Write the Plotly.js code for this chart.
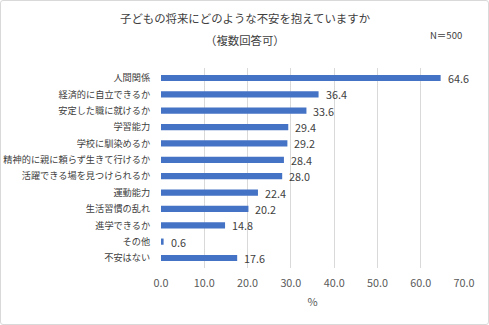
<!DOCTYPE html>
<html><head><meta charset="utf-8">
<script src="https://cdn.plot.ly/plotly-3.0.1.min.js"></script>
<style>
html,body{margin:0;padding:0;background:#fff;}
#wrap{position:absolute;left:0;top:0;width:487px;height:323px;border:1px solid #D9D9D9;border-radius:3px;}
#chart{position:absolute;left:-1px;top:-1px;width:489px;height:325px;}
</style>
</head><body>
<div id="wrap"><div id="chart"></div></div>
<script>
const categories = ["人間関係","経済的に自立できるか","安定した職に就けるか","学習能力","学校に馴染めるか","精神的に親に頼らず生きて行けるか","活躍できる場を見つけられるか","運動能力","生活習慣の乱れ","進学できるか","その他","不安はない"];
const values = [64.6,36.4,33.6,29.4,29.2,28.4,28.0,22.4,20.2,14.8,0.6,17.6];
const tickVals = [0,10,20,30,40,50,60,70];
const tickText = ["0.0","10.0","20.0","30.0","40.0","50.0","60.0","70.0"];
const titleLine1 = "子どもの将来にどのような不安を抱えていますか";
const titleLine2 = "（複数回答可）";
const noteText = "N＝500";

const FONT = '"Noto Sans CJK JP", "Noto Sans", sans-serif';

const annotations = values.map((v,i)=>({
  x: v, y: categories[i], xref:'x', yref:'y',
  text: v.toFixed(1), showarrow:false, xanchor:'left', xshift:5,
  font:{family:FONT, size:10.8, color:'#404040'}
}));

annotations.push(
  {x:0, y:1, xref:'paper', yref:'paper', xanchor:'center', yanchor:'middle', yshift:50, xshift:245-161,
   text:titleLine1, showarrow:false, font:{family:FONT, size:11.4, color:'#404040'}},
  {x:0, y:1, xref:'paper', yref:'paper', xanchor:'center', yanchor:'middle', yshift:28, xshift:245-161,
   text:titleLine2, showarrow:false, font:{family:FONT, size:11.4, color:'#404040'}},
  {x:1, y:1, xref:'paper', yref:'paper', xanchor:'right', yanchor:'middle', yshift:33,
   text:noteText, showarrow:false, font:{family:FONT, size:9.5, color:'#404040'}}
);

const layout = {
  width:489, height:325,
  margin:{l:161, r:25, t:68, b:57, pad:0},
  paper_bgcolor:'rgba(0,0,0,0)', plot_bgcolor:'rgba(0,0,0,0)',
  showlegend:false,
  bargap:0.62,
  font:{family:FONT, color:'#595959'},
  xaxis:{
    range:[0,70], tickvals:tickVals, ticktext:tickText,
    showgrid:true, gridcolor:'#D9D9D9', gridwidth:1,
    zeroline:false, showline:false, ticks:'outside', ticklen:5, tickcolor:'rgba(0,0,0,0)',
    tickfont:{family:FONT, size:10.8, color:'#595959'},
    title:{text:'%', font:{family:FONT, size:11, color:'#595959'}, standoff:9},
    fixedrange:true
  },
  yaxis:{
    autorange:'reversed', type:'category',
    showgrid:false, zeroline:false, showline:false,
    ticks:'outside', ticklen:8, tickcolor:'rgba(0,0,0,0)',
    tickfont:{family:FONT, size:9.2, color:'#404040'}
  },
  annotations: annotations
};

Plotly.newPlot('chart', [{
  type:'bar', orientation:'h', x:values, y:categories,
  marker:{color:'#4472C4'}, hoverinfo:'none'
}], layout, {staticPlot:true});
</script>
</body></html>
